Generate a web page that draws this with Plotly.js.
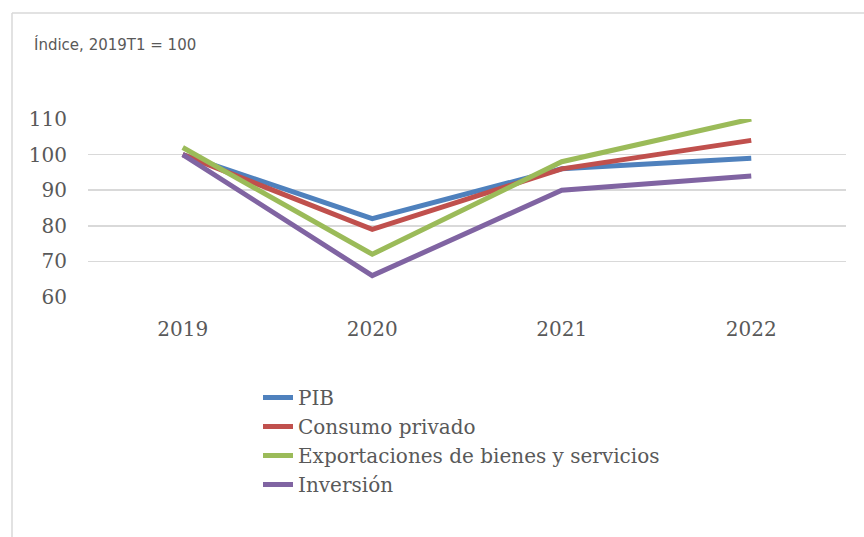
<!DOCTYPE html>
<html><head><meta charset="utf-8">
<script src="https://cdn.plot.ly/plotly-3.0.1.min.js"></script>
<style>html,body{margin:0;padding:0;background:#fff}</style>
</head><body><div id="chart" style="width:864px;height:537px"></div>
<script>
const years = ['2019', '2020', '2021', '2022'];
const pib = [100, 82, 96, 99];
const consumo = [100, 79, 96, 104];
const exportaciones = [102, 72, 98, 110];
const inversion = [100, 66, 90, 94];
const names = ['PIB', 'Consumo privado', 'Exportaciones de bienes y servicios', 'Inversión'];
const colors = ['#4f81bd', '#c0504d', '#9bbb59', '#8064a2'];
const series = [pib, consumo, exportaciones, inversion];

const traces = series.map((s, i) => ({
  x: years, y: s, name: names[i], type: 'scatter', mode: 'lines',
  line: {color: colors[i], width: 5}, cliponaxis: false
}));

const layout = {
  width: 864, height: 537,
  margin: {l: 88, r: 18, t: 119, b: 240},
  paper_bgcolor: '#fff', plot_bgcolor: '#fff',
  showlegend: true,
  title: {text: 'Índice, 2019T1 = 100', x: 34/864, xanchor: 'left', xref: 'container',
    y: 1 - 45/537, yref: 'container', yanchor: 'middle',
    font: {family: 'DejaVu Sans, sans-serif', size: 15, color: '#595959'}},
  xaxis: {type: 'category', range: [-0.5, 3.5], showgrid: false, zeroline: false, showline: false,
    ticks: '', ticklabelstandoff: 18,
    tickfont: {family: 'DejaVu Serif, serif', size: 20, color: '#595959'}},
  yaxis: {range: [60, 110], tickvals: [60, 70, 80, 90, 100, 110], showgrid: true,
    gridcolor: '#d9d9d9', gridwidth: 1.5, zeroline: false, showline: false, ticks: '',
    ticklabelstandoff: 20,
    tickfont: {family: 'DejaVu Serif, serif', size: 20, color: '#595959'}},
  legend: {x: (258-88)/758, xanchor: 'left', y: -0.455, yanchor: 'top', orientation: 'v',
    font: {family: 'DejaVu Serif, serif', size: 20, color: '#595959'},
    bgcolor: 'rgba(0,0,0,0)', itemwidth: 30, tracegroupgap: 0},
  shapes: [
    {type: 'line', xref: 'paper', yref: 'paper', x0: -76/758, x1: 1.1, y0: (297-13)/178, y1: (297-13)/178,
      line: {color: '#d9d9d9', width: 1.5}},
    {type: 'line', xref: 'paper', yref: 'paper', x0: -76/758, x1: -76/758, y0: (297-13)/178, y1: -2,
      line: {color: '#d9d9d9', width: 1.5}}
  ]
};
Plotly.newPlot('chart', traces, layout, {displayModeBar: false, staticPlot: true});
</script></body></html>
